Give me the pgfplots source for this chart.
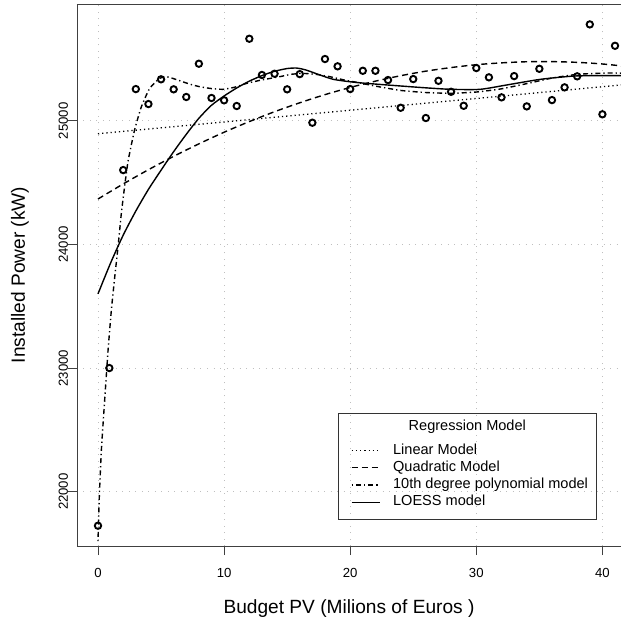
\documentclass[border=0pt]{standalone}
\usepackage{fontspec}
\setmainfont{Liberation Sans}
\usepackage{pgfplots}
\pgfplotsset{compat=1.18}

\begin{document}
\begin{tikzpicture}
\path[use as bounding box] (-77bp,-73bp) rectangle (544bp,546bp);
\begin{axis}[
    at={(0,0)}, anchor=south west,
    scale only axis,
    width=544bp, height=542bp,
    xmin=-1.665, xmax=41.475,
    ymin=21561, ymax=25944,
    axis y line*=left,
    xtick pos=lower, ytick pos=left,
    axis line style={black!75, line width=0.9bp},
    xtick={0,10,20,30,40},
    ytick={22000,23000,24000,25000},
    scaled y ticks=false,
    tick align=outside,
    major tick length=9bp,
    tick style={black!75, line width=0.9bp},
    /pgf/number format/assume math mode=true,
    /pgf/number format/1000 sep={},
    xticklabel style={font=\fontsize{13.2}{13.2}\selectfont, anchor=base, yshift=-22.5bp},
    yticklabel style={font=\fontsize{13.2}{13.2}\selectfont, rotate=90, anchor=base},
    grid=major,
    grid style={black!25, line width=0.9bp, dash pattern=on 1bp off 5.5bp},
    xlabel={Budget PV (Milions of Euros )},
    ylabel={Installed Power (kW)},
    xlabel style={font=\fontsize{19.2}{19.2}\selectfont, at={(axis description cs:0.5,-0.1242)}, anchor=base},
    ylabel style={font=\fontsize{19.2}{19.2}\selectfont, at={(axis description cs:-0.0956,0.5)}, anchor=base, rotate=0},
    legend style={at={(rel axis cs:0.5037,0.1924)}, anchor=north west,
        draw=none, fill=none, inner sep=0pt, outer sep=0pt, row sep=0pt,
        font=\fontsize{14.6}{17.3}\selectfont,
        nodes={inner sep=0pt, text height=12.3bp, text depth=5bp},
        /tikz/every odd column/.style={column sep=12.7bp}},
    legend cell align=left,
    legend image code/.code={\draw[#1] (0bp,0bp) -- (28bp,0bp);},
]
% observations
\addplot[only marks, mark=o, mark size=3.2bp, line width=1.9bp, black, forget plot] coordinates {
(0,21725) (0.9,23000) (2,24601) (3,25256) (4,25135) (5,25335) (6,25254) (7,25192)
(8,25461) (9,25184) (10,25165) (11,25119) (12,25663) (13,25370) (14,25380) (15,25254)
(16,25377) (17,24984) (18,25499) (19,25440) (20,25256) (21,25404) (22,25404) (23,25329)
(24,25105) (25,25337) (26,25022) (27,25323) (28,25234) (29,25121) (30,25426) (31,25351)
(32,25189) (33,25361) (34,25116) (35,25420) (36,25167) (37,25270) (38,25359) (39,25779)
(40,25052) (41,25606)
};
% linear model
\addplot[black, line width=1.3bp, dash pattern=on 1.2bp off 3bp] coordinates {
(0,24895) (20,25085) (42,25294)
};
\addlegendentry{Linear Model}
% quadratic model
\addplot[black, line width=1.4bp, dash pattern=on 6bp off 4bp, smooth] coordinates {
(0,24367) (2,24489) (4,24604) (6,24712) (8,24813) (10,24907) (12,24993) (14,25073)
(16,25145) (18,25211) (20,25269) (22,25320) (24,25364) (26,25401) (28,25430) (30,25453)
(32,25468) (34,25477) (36,25478) (38,25472) (40,25459) (42,25438)
};
\addlegendentry{Quadratic Model}
% 10th degree polynomial
\addplot[black, line width=1.4bp, dash pattern=on 1.3bp off 3bp on 5bp off 3bp, smooth, tension=0.3] coordinates {
(0,21600) (0.1,21950) (0.27,22340) (0.53,22742) (0.8,23146) (1.06,23469) (1.33,23739)
(1.59,23981) (1.85,24250) (2.15,24500) (2.4,24682) (2.9,24925) (3.44,25113) (4.1,25262)
(4.9,25343) (5.5,25355) (6.5,25323) (7.3,25295) (8.07,25275) (9,25260) (9.9,25254)
(10.8,25270) (11.78,25302) (13,25330) (14.4,25356) (15.3,25375) (16.2,25383) (17.3,25375)
(18.4,25356) (19.5,25330) (20.7,25307) (22,25280) (24,25245) (26,25228) (28,25222)
(30,25232) (32,25258) (34,25300) (36,25345) (38,25375) (40,25385) (41,25386) (42,25382)
};
\addlegendentry{10th degree polynomial model}
% LOESS
\addplot[black, line width=1.4bp, smooth, tension=0.4] coordinates {
(0,23600) (1,23850) (2,24075) (3,24270) (4,24445) (5,24600) (6,24750) (7,24890)
(8,25020) (9,25125) (10,25200) (11,25265) (12,25320) (13,25365) (14,25400) (15,25422)
(15.75,25426) (16.5,25410) (17.6,25370) (18.65,25335) (20,25315) (21.3,25302) (24,25281)
(26,25266) (28,25254) (30.3,25254) (32.4,25289) (35.1,25335) (37.7,25361) (40,25365) (42,25365)
};
\addlegendentry{LOESS model}
% legend frame and title
\draw[black!80, line width=0.8bp] (rel axis cs:0.4803,0.0498) rectangle (rel axis cs:0.9540,0.2448);
\node[anchor=base, inner sep=0pt, font=\fontsize{14.6}{14.6}\selectfont] at (rel axis cs:0.7175,0.2127) {Regression Model};
\end{axis}
\end{tikzpicture}
\end{document}
